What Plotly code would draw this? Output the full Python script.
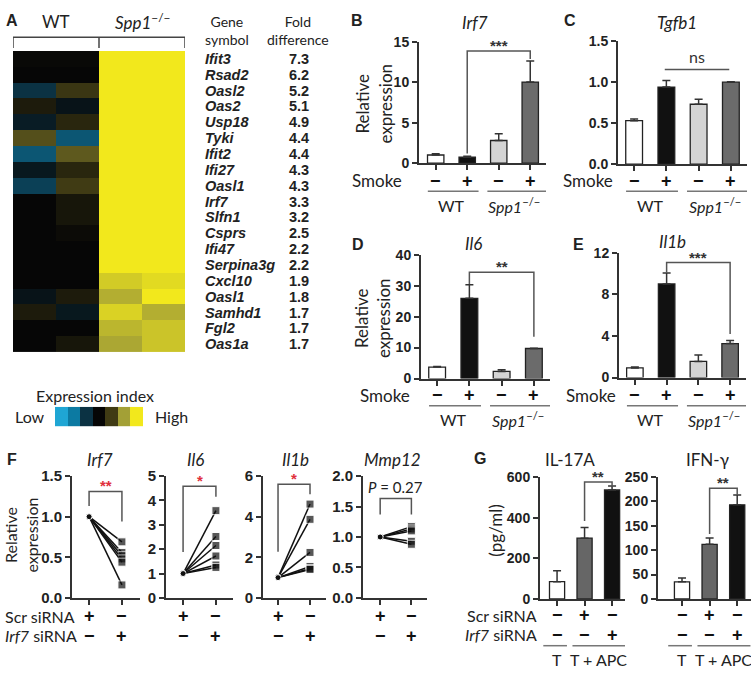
import plotly.graph_objects as go

W, H = 751, 681
def px(x): return x / W
def py(y): return 1 - y / H

# ---------------- data ----------------
genes = ["Ifit3", "Rsad2", "Oasl2", "Oas2", "Usp18", "Tyki", "Ifit2", "Ifi27", "Oasl1", "Irf7",
         "Slfn1", "Csprs", "Ifi47", "Serpina3g", "Cxcl10", "Oasl1", "Samhd1", "Fgl2", "Oas1a"]
fold_diff = ["7.3", "6.2", "5.2", "5.1", "4.9", "4.4", "4.4", "4.3", "4.3", "3.3",
             "3.2", "2.5", "2.2", "2.2", "1.9", "1.8", "1.7", "1.7", "1.7"]
heat_wt1 = [0.05, 0.0, -1.0, 0.4, -0.5, 1.2, -1.5, -0.4, -1.2, 0.0, 0.0, 0.0, 0.0, 0.0, 0.0, -0.3, 0.4, 0.0, 0.0]
heat_wt2 = [0.05, 0.0, 0.9, -0.3, 0.6, -1.5, 1.3, 0.6, 1.0, 0.3, 0.3, 0.1, 0.0, 0.0, 0.0, 0.4, -0.4, 0.0, 0.3]
heat_ko1 = [3, 3, 3, 3, 3, 3, 3, 3, 3, 3, 3, 3, 3, 3, 2.6, 2.2, 2.7, 2.3, 2.1]
heat_ko2 = [3, 3, 3, 3, 3, 3, 3, 3, 3, 3, 3, 3, 3, 3, 2.8, 3.0, 2.2, 2.5, 2.5]
index_levels = [-3, -2, -1, 0, 1, 2, 3]

bar_x = [0, 1, 2, 3]
smoke_signs = ["−", "+", "−", "+"]
irf7_mean = [1.0, 0.72, 2.8, 10.05]
irf7_err = [0.15, 0.12, 0.85, 2.6]
tgfb1_mean = [0.53, 0.94, 0.73, 1.0]
tgfb1_err = [0.02, 0.08, 0.06, 0.004]
il6_mean = [3.7, 25.9, 2.3, 9.7]
il6_err = [0.2, 4.4, 0.5, 0.1]
il1b_mean = [0.93, 9.0, 1.55, 3.27]
il1b_err = [0.08, 1.05, 0.62, 0.3]

pair_x = [0, 1]
scr_level = 1.0
f_irf7 = [0.69, 0.56, 0.52, 0.48, 0.44, 0.16]
f_il6 = [3.58, 2.52, 2.15, 1.72, 1.35, 1.25]
f_il1b = [4.62, 3.87, 2.24, 1.55, 1.45, 1.40]
f_mmp12 = [1.17, 1.13, 1.10, 0.93, 0.88]
scr_signs = ["+", "−"]
irf7si_signs = ["−", "+"]

g_x = [0, 1, 2]
il17a_mean = [85, 299, 536]
il17a_err = [54, 53, 20]
ifng_mean = [35, 112, 193]
ifng_err = [8, 13, 20]
g_scr_signs = ["−", "+", "−"]
g_irf7_signs = ["−", "−", "+"]

# ---------------- style ----------------
HUM = "Lato"
ARIAL = "Liberation Sans"
AX = "#333333"
GRAY = "#555555"
RED = "#e0303c"
SIGN = 18
colorscale = [[0.0, "#1fa6d4"], [1/6, "#0c7aa2"], [2/6, "#0b3243"], [0.5, "#060606"],
              [4/6, "#403b14"], [5/6, "#a3a036"], [1.0, "#f2e81c"]]

fig = go.Figure()
layout = dict(width=W, height=H, margin=dict(l=0, r=0, t=0, b=0),
              paper_bgcolor="white", plot_bgcolor="white", showlegend=False)
annotations = []
shapes = []

def ref(i, a):
    return a if i == 1 else f"{a}{i}"

def txt(x, y, text, xref="paper", yref="paper", size=16, family=HUM, color="#222",
        xanchor="center", yanchor="middle", angle=0, weight="normal", **kw):
    annotations.append(dict(x=x, y=y, text=text, xref=xref, yref=yref, showarrow=False,
                            xanchor=xanchor, yanchor=yanchor, textangle=angle,
                            font=dict(size=size, family=family, color=color, weight=weight), **kw))

def set_axes(i, xdom, ydom, xrange, yrange, ytickvals=None, yticktext=None, xtickvals=None,
             tick_size=14, visible=True):
    xa = dict(domain=[px(xdom[0]), px(xdom[1])], range=xrange, anchor=ref(i, "y"),
              showgrid=False, zeroline=False, fixedrange=True)
    ya = dict(domain=[py(ydom[1]), py(ydom[0])], range=yrange, anchor=ref(i, "x"),
              showgrid=False, zeroline=False, fixedrange=True)
    if visible:
        xa.update(showline=True, linecolor=AX, linewidth=2, ticks="outside", ticklen=5,
                  tickwidth=2, tickcolor=AX, tickvals=xtickvals, showticklabels=False)
        ya.update(showline=True, linecolor=AX, linewidth=2, ticks="outside", ticklen=5,
                  tickwidth=2, tickcolor=AX, tickvals=ytickvals, ticktext=yticktext,
                  tickfont=dict(size=tick_size, family=ARIAL, color="#222", weight="bold"))
    else:
        xa.update(visible=False)
        ya.update(visible=False)
    layout["xaxis" if i == 1 else f"xaxis{i}"] = xa
    layout["yaxis" if i == 1 else f"yaxis{i}"] = ya

def bracket(i, pts, color=GRAY, width=1.5):
    path = "M " + " L ".join(f"{x},{y}" for x, y in pts)
    shapes.append(dict(type="path", path=path, xref=ref(i, "x"), yref=ref(i, "y"),
                       line=dict(color=color, width=width)))

# ---------------- Panel A: heatmap ----------------
z = [[heat_wt1[k], heat_wt2[k], heat_ko1[k], heat_ko2[k]] for k in range(len(genes))]
fig.add_trace(go.Heatmap(z=z, x=[0, 1, 2, 3], y=list(range(len(genes))), colorscale=colorscale,
                         zmin=-3, zmax=3, showscale=False, xaxis="x", yaxis="y", hoverinfo="skip"))
set_axes(1, (13, 185), (43, 352), [-0.5, 3.5], [len(genes) - 0.5, -0.5], visible=False)
fig.add_trace(go.Heatmap(z=[index_levels], x=list(range(len(index_levels))), y=[0],
                         colorscale=colorscale, zmin=-3, zmax=3, showscale=False,
                         xaxis="x2", yaxis="y2", hoverinfo="skip"))
set_axes(2, (55, 143), (408, 428), [-0.5, 6.5], [-0.5, 0.5], visible=False)

# bracket above heatmap
shapes.append(dict(type="path", path="M -0.5,{a} L -0.5,{b} L 3.5,{b} L 3.5,{a}".format(a=py(40), b=py(29)),
                   xref="x", yref="paper", line=dict(color="#444", width=1.5)))
shapes.append(dict(type="line", x0=1.5, x1=1.5, y0=py(29), y1=py(40), xref="x", yref="paper",
                   line=dict(color="#444", width=1.5)))
txt(0.5, py(13), "WT", xref="x", size=17)
txt(2.5, py(13), "<i>Spp1</i><sup>−/−</sup>", xref="x", size=17)
txt(px(4), py(12), "A", size=16, family=ARIAL, weight="bold", xanchor="left")
txt(px(227), py(22), "Gene<br>symbol", size=14)
txt(px(298), py(22), "Fold<br>difference", size=14)
for k, g in enumerate(genes):
    txt(px(203), k, f"<i>{g}</i>", yref="y", size=14.5, family=ARIAL, weight="bold", xanchor="left")
    txt(px(299), k, fold_diff[k], yref="y", size=14.5, family=ARIAL, weight="bold")
txt(px(95), py(396), "Expression index", size=16)
txt(px(30), py(418), "Low", size=16)
txt(px(171), py(418), "High", size=16)

# ---------------- Panels B-E ----------------
bar_colors = ["white", "#111111", "#d4d4d4", "#6b6b6b"]

def bar_panel(i, mean, err):
    fig.add_trace(go.Bar(x=bar_x, y=mean, width=0.52, marker=dict(color=bar_colors, line=dict(color="#222", width=1.3)),
                         error_y=dict(type="data", array=err, arrayminus=[0] * len(err), symmetric=False,
                                      color="#333", thickness=1.5, width=4),
                         xaxis=ref(i, "x"), yaxis=ref(i, "y"), hoverinfo="skip"))

def smoke_rows(i, y_sign, y_line, y_lab, smoke_x):
    txt(px(smoke_x), py(y_sign), "Smoke", size=17)
    for xv, s in zip(bar_x, smoke_signs):
        txt(xv, py(y_sign), s, xref=ref(i, "x"), size=SIGN, family=ARIAL, weight="bold", color="#111")
    for x0, x1 in [(-0.25, 1.36), (1.64, 3.5)]:
        shapes.append(dict(type="line", x0=x0, x1=x1, y0=py(y_line), y1=py(y_line), xref=ref(i, "x"),
                           yref="paper", line=dict(color="#777", width=1.5)))
    txt(0.5, py(y_lab), "WT", xref=ref(i, "x"), size=16)
    txt(2.5, py(y_lab), "<i>Spp1</i><sup>−/−</sup>", xref=ref(i, "x"), size=16)

# B
bar_panel(3, irf7_mean, irf7_err)
set_axes(3, (419, 546), (34, 158), [-0.53, 3.5], [0, 15], ytickvals=[0, 5, 10, 15], xtickvals=bar_x)
bracket(3, [(1, 1.2), (1, 13.9), (3, 13.9), (3, 12.9)])
txt(2, 13.9, "***", xref="x3", yref="y3", size=15, family=ARIAL, weight="bold", yanchor="bottom", color="#333", yshift=-5)
txt(px(475), py(14), "<i>Irf7</i>", size=17)
txt(px(357), py(12), "B", size=16, family=ARIAL, weight="bold")
txt(px(374), py(97), "Relative<br>expression", size=17, angle=-90)
smoke_rows(3, 176, 187, 202, 377)

# C
bar_panel(4, tgfb1_mean, tgfb1_err)
set_axes(4, (618, 747), (33, 159), [-0.5, 3.5], [0, 1.5], ytickvals=[0, 0.5, 1.0, 1.5],
         yticktext=["0.0", "0.5", "1.0", "1.5"], xtickvals=bar_x)
bracket(4, [(0.95, 1.155), (2.95, 1.155)])
txt(1.95, 1.155, "ns", xref="x4", yref="y4", size=16, yanchor="bottom", color="#333", yshift=1)
txt(px(677), py(14), "<i>Tgfb1</i>", size=17)
txt(px(570), py(12), "C", size=16, family=ARIAL, weight="bold")
smoke_rows(4, 176, 187, 202, 588)

# D
bar_panel(5, il6_mean, il6_err)
set_axes(5, (421, 550), (252, 379), [-0.5, 3.5], [0, 40], ytickvals=[0, 10, 20, 30, 40], xtickvals=bar_x)
bracket(5, [(1, 30.5), (1, 34.3), (3, 34.3), (3, 13.5)])
txt(2, 34.3, "**", xref="x5", yref="y5", size=15, family=ARIAL, weight="bold", yanchor="bottom", color="#333", yshift=-5)
txt(px(473), py(241), "<i>Il6</i>", size=17)
txt(px(358), py(242), "D", size=16, family=ARIAL, weight="bold")
txt(px(372), py(317), "Relative<br>expression", size=17, angle=-90)
smoke_rows(5, 396, 407, 421, 385)

# E
bar_panel(6, il1b_mean, il1b_err)
set_axes(6, (619, 746), (250, 378), [-0.5, 3.5], [0, 12], ytickvals=[0, 4, 8, 12], xtickvals=bar_x)
bracket(6, [(1, 10.1), (1, 11.06), (3, 11.06), (3, 4.2)])
txt(2, 11.06, "***", xref="x6", yref="y6", size=15, family=ARIAL, weight="bold", yanchor="bottom", color="#333", yshift=-5)
txt(px(672), py(238), "<i>Il1b</i>", size=17)
txt(px(578), py(242), "E", size=16, family=ARIAL, weight="bold")
smoke_rows(6, 396, 407, 421, 591)

# ---------------- Panel F ----------------
def pair_panel(i, vals):
    for v in vals:
        fig.add_trace(go.Scatter(x=pair_x, y=[scr_level, v], mode="lines+markers",
                                 line=dict(color="#111", width=1.5),
                                 marker=dict(symbol=["circle", "square"], size=[6, 8], color="#111"),
                                 xaxis=ref(i, "x"), yaxis=ref(i, "y"), hoverinfo="skip"))
    for xv, s1, s2 in zip(pair_x, scr_signs, irf7si_signs):
        txt(xv, py(623), s1, xref=ref(i, "x"), size=SIGN, family=ARIAL, weight="bold", color="#111")
        txt(xv, py(643), s2, xref=ref(i, "x"), size=SIGN, family=ARIAL, weight="bold", color="#111")

pair_panel(7, f_irf7)
set_axes(7, (72, 140), (479, 604), [-0.52, 1.55], [0, 1.5], ytickvals=[0, 0.5, 1.0, 1.5],
         yticktext=["0.0", "0.5", "1.0", "1.5"], xtickvals=pair_x, tick_size=15)
bracket(7, [(0, 1.13), (0, 1.31), (1, 1.31), (1, 0.94)])
txt(0.5, 1.31, "**", xref="x7", yref="y7", size=15, family=ARIAL, weight="bold", color=RED, yanchor="bottom", yshift=-5)
txt(px(100), py(462), "<i>Irf7</i>", size=17)

pair_panel(8, f_il6)
set_axes(8, (166, 233), (479, 604), [-0.52, 1.52], [0, 5], ytickvals=[0, 1, 2, 3, 4, 5],
         xtickvals=pair_x, tick_size=15)
bracket(8, [(0, 1.88), (0, 4.58), (1, 4.58), (1, 4.15)])
txt(0.5, 4.58, "*", xref="x8", yref="y8", size=15, family=ARIAL, weight="bold", color=RED, yanchor="bottom", yshift=-5)
txt(px(195), py(462), "<i>Il6</i>", size=17)

pair_panel(9, f_il1b)
set_axes(9, (263, 326), (479, 604), [-0.47, 1.5], [0, 6], ytickvals=[0, 2, 4, 6],
         xtickvals=pair_x, tick_size=15)
bracket(9, [(0, 2.27), (0, 5.6), (1, 5.6), (1, 5.1)])
txt(0.5, 5.6, "*", xref="x9", yref="y9", size=15, family=ARIAL, weight="bold", color=RED, yanchor="bottom", yshift=-5)
txt(px(295), py(462), "<i>Il1b</i>", size=17)

pair_panel(10, f_mmp12)
set_axes(10, (363, 427), (479, 604), [-0.55, 1.5], [0, 2.0], ytickvals=[0, 0.5, 1.0, 1.5, 2.0],
         yticktext=["0.0", "0.5", "1.0", "1.5", "2.0"], xtickvals=pair_x, tick_size=15)
bracket(10, [(0, 1.37), (0, 1.63), (1, 1.63), (1, 1.37)])
txt(px(395), py(490), "<i>P</i> = 0.27", size=15)
txt(px(393), py(462), "<i>Mmp12</i>", size=17)

txt(px(5), py(462), "F", size=16, family=ARIAL, weight="bold", xanchor="left")
txt(px(21), py(540), "Relative<br>expression", size=16, angle=-90)
txt(px(3), py(623), "Scr siRNA", size=16, xanchor="left")
txt(px(3), py(643), "<i>Irf7</i> siRNA", size=16, xanchor="left")

# ---------------- Panel G ----------------
g_colors = ["white", "#666666", "#111111"]

def g_panel(i, mean, err):
    fig.add_trace(go.Bar(x=g_x, y=mean, width=0.55, marker=dict(color=g_colors, line=dict(color="#222", width=1.3)),
                         error_y=dict(type="data", array=err, arrayminus=[0] * len(err), symmetric=False,
                                      color="#333", thickness=1.5, width=4),
                         xaxis=ref(i, "x"), yaxis=ref(i, "y"), hoverinfo="skip"))
    for xv, s1, s2 in zip(g_x, g_scr_signs, g_irf7_signs):
        txt(xv, py(622), s1, xref=ref(i, "x"), size=SIGN, family=ARIAL, weight="bold", color="#111")
        txt(xv, py(642), s2, xref=ref(i, "x"), size=SIGN, family=ARIAL, weight="bold", color="#111")
    for x0, x1 in [(-0.5, 0.36), (0.56, 2.48)]:
        shapes.append(dict(type="line", x0=x0, x1=x1, y0=py(653), y1=py(653), xref=ref(i, "x"),
                           yref="paper", line=dict(color="#777", width=1.5)))
    txt(0, py(667), "T", xref=ref(i, "x"), size=16)
    txt(1.5, py(667), "T + APC", xref=ref(i, "x"), size=16)

g_panel(11, il17a_mean, il17a_err)
set_axes(11, (540, 625), (480, 605), [-0.62, 2.47], [0, 600], ytickvals=[0, 200, 400, 600], xtickvals=g_x)
bracket(11, [(1, 384), (1, 576), (2, 576), (2, 549)])
txt(1.5, 576, "**", xref="x11", yref="y11", size=15, family=ARIAL, weight="bold", color="#333", yanchor="bottom", yshift=-5)
txt(px(570), py(462), "IL-17A", size=17)

g_panel(12, ifng_mean, ifng_err)
set_axes(12, (658, 751), (480, 605), [-0.87, 2.5], [0, 250], ytickvals=[0, 50, 100, 150, 200, 250], xtickvals=g_x)
bracket(12, [(1, 133), (1, 227), (2, 227), (2, 213)])
txt(1.5, 227, "**", xref="x12", yref="y12", size=15, family=ARIAL, weight="bold", color="#333", yanchor="bottom", yshift=-5)
txt(px(707), py(462), "IFN-γ", size=17)

txt(px(480), py(461), "G", size=16, family=ARIAL, weight="bold")
txt(px(496), py(535), "(pg/ml)", size=17, angle=-90)
txt(px(539), py(622), "Scr siRNA", size=16, xanchor="right")
txt(px(539), py(642), "<i>Irf7</i> siRNA", size=16, xanchor="right")

layout["annotations"] = annotations
layout["shapes"] = shapes
fig.update_layout(**layout)
fig.write_html("out.html", config={"displayModeBar": False},
               post_script="document.body.style.margin='0';document.body.style.overflow='hidden';")
